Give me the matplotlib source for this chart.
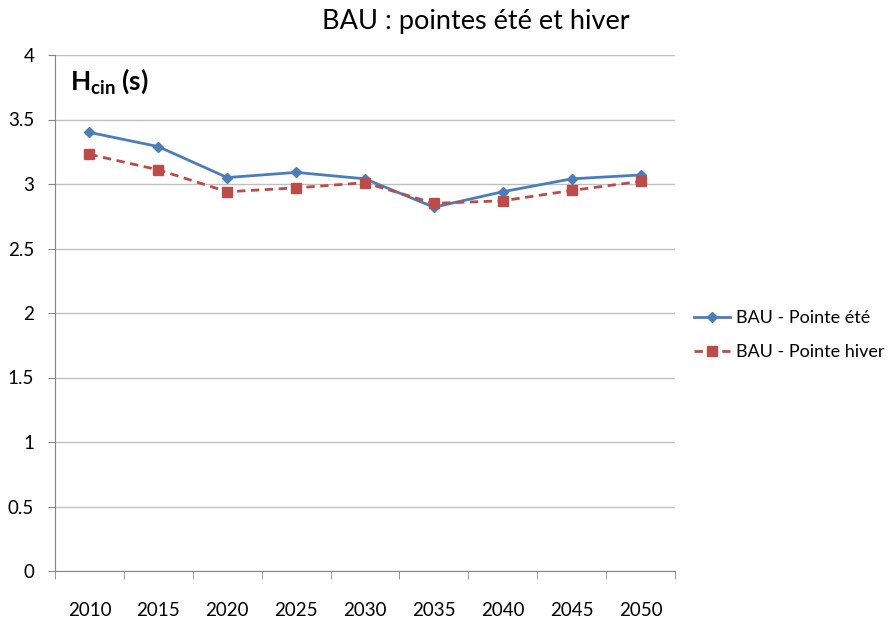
import matplotlib.pyplot as plt
import numpy as np

years = ["2010", "2015", "2020", "2025", "2030", "2035", "2040", "2045", "2050"]
pointe_ete = [3.40, 3.29, 3.05, 3.09, 3.04, 2.82, 2.94, 3.04, 3.07]
pointe_hiver = [3.23, 3.11, 2.94, 2.97, 3.01, 2.85, 2.87, 2.95, 3.02]

plt.rcParams['font.family'] = ['Lato', 'DejaVu Sans']
plt.rcParams['mathtext.fontset'] = 'custom'
plt.rcParams['mathtext.rm'] = 'Lato'
plt.rcParams['mathtext.bf'] = 'Lato:bold'

fig = plt.figure(figsize=(8.95, 6.19), dpi=100)
ax = fig.add_axes([55 / 895, 48 / 619, 620 / 895, 516 / 619])

x = np.arange(len(years))
ax.plot(x, pointe_ete, color="#4A7EBB", linewidth=2, marker="D", markersize=5,
        label="BAU - Pointe été")
ax.plot(x, pointe_hiver, color="#BE4B48", linewidth=2, linestyle=(0, (3, 2)),
        marker="s", markersize=6.5, label="BAU - Pointe hiver")

ax.set_xlim(-0.5, len(years) - 0.5)
ax.set_ylim(0, 4)
ax.set_yticks(np.arange(0, 4.01, 0.5))
ax.set_yticklabels(["0", "0.5", "1", "1.5", "2", "2.5", "3", "3.5", "4"])
ax.set_xticks(x)
ax.set_xticklabels(years)
ax.set_xticks(np.arange(-0.5, len(years), 1), minor=True)
ax.tick_params(axis="x", which="major", length=0, pad=22, labelsize=13.5)
ax.tick_params(axis="x", which="minor", length=6, color="#868686")
ax.tick_params(axis="y", length=5, color="#868686", pad=10, labelsize=13.5)

ax.grid(axis="y", color="#C0C0C0", linewidth=1)
ax.set_axisbelow(True)
for side in ["top", "right"]:
    ax.spines[side].set_visible(False)
for side in ["left", "bottom"]:
    ax.spines[side].set_color("#868686")

ax.text(0.025, 0.978, r"H$_\mathbf{cin}$ (s)", transform=ax.transAxes,
        fontsize=19, fontweight="bold", va="top", ha="left")

fig.text(476 / 895, 1 - 21 / 619, "BAU : pointes été et hiver", fontsize=19.5,
         ha="center", va="center")

fig.legend(loc="center left", bbox_to_anchor=(678 / 895, 1 - 335 / 619),
           frameon=False, fontsize=13, handlelength=2.0, labelspacing=1.0,
           handletextpad=0.3)

fig.savefig("out.png", dpi=100)
